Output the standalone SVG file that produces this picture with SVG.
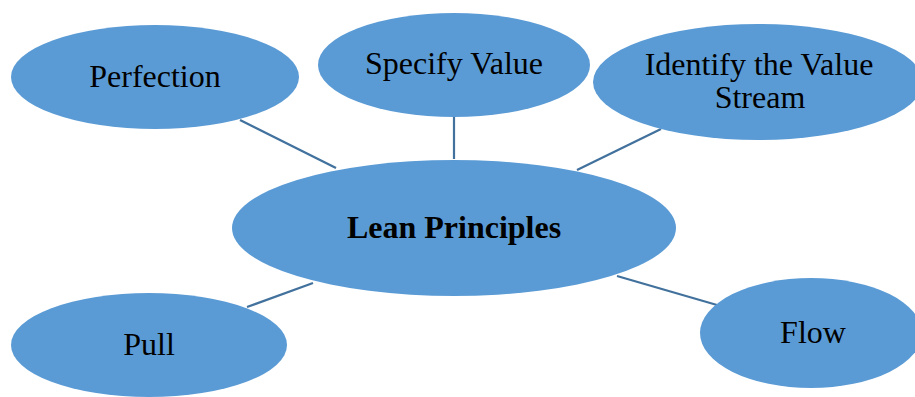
<svg xmlns="http://www.w3.org/2000/svg" width="915" height="397" viewBox="0 0 915 397">
<style>
.n{fill:#5B9BD5;}
.t{font-family:"Liberation Serif","Times New Roman",serif;font-size:32px;fill:#000;text-anchor:middle;}
.b{font-weight:bold;}
.c line{stroke:#41719C;stroke-width:2.2;}
</style>
<rect width="915" height="397" fill="#fff"/>
<g id="connectors" class="c">
<line x1="240" y1="120" x2="336" y2="168"/>
<line x1="454" y1="116" x2="454" y2="159"/>
<line x1="661" y1="129" x2="577" y2="170"/>
<line x1="247" y1="307" x2="313" y2="283"/>
<line x1="617" y1="276" x2="717" y2="305"/>
</g>
<g id="center"><ellipse class="n" cx="454" cy="228" rx="222" ry="68"/><text class="t b" x="454" y="238">Lean Principles</text></g>
<g id="perfection"><ellipse class="n" cx="155" cy="77" rx="144" ry="52"/><text class="t" x="155" y="87">Perfection</text></g>
<g id="specify"><ellipse class="n" cx="454" cy="65" rx="136" ry="52"/><text class="t" x="454" y="74">Specify Value</text></g>
<g id="identify"><ellipse class="n" cx="758" cy="82" rx="165" ry="58"/><text class="t" x="759" y="75">Identify the Value</text><text class="t" x="760" y="108">Stream</text></g>
<g id="pull"><ellipse class="n" cx="149" cy="345" rx="138" ry="52"/><text class="t" x="149" y="355">Pull</text></g>
<g id="flow"><ellipse class="n" cx="811" cy="333" rx="111" ry="55"/><text class="t" x="813" y="343">Flow</text></g>
</svg>
